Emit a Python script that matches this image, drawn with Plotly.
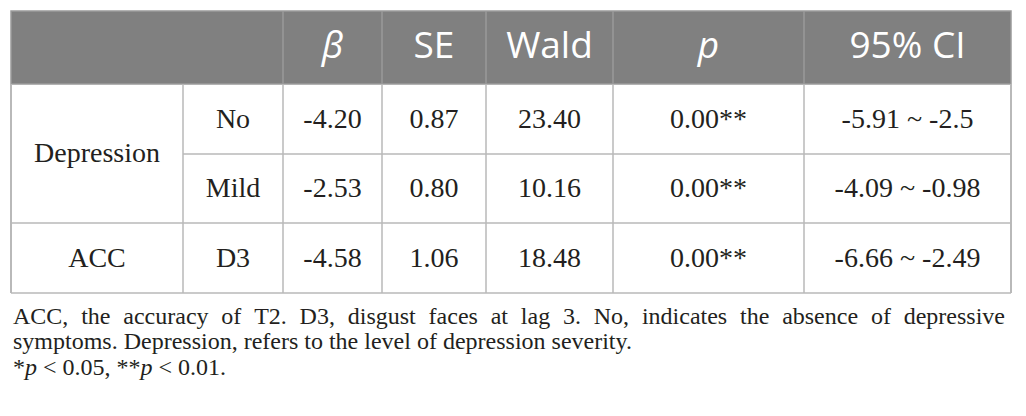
import plotly.graph_objects as go

# table content
header = ["", "<i>β</i>", "SE", "Wald", "<i>p</i>", "95% CI"]
groups = ["Depression", "ACC"]
group_rows = [[0, 1], [2]]
levels = ["No", "Mild", "D3"]
beta = ["-4.20", "-2.53", "-4.58"]
se = ["0.87", "0.80", "1.06"]
wald = ["23.40", "10.16", "18.48"]
p_val = ["0.00**", "0.00**", "0.00**"]
ci = ["-5.91 ~ -2.5", "-4.09 ~ -0.98", "-6.66 ~ -2.49"]
footnote = [
    "ACC, the accuracy of T2. D3, disgust faces at lag 3. No, indicates the absence of depressive",
    "symptoms. Depression, refers to the level of depression severity.",
    "*<i>p</i> < 0.05, **<i>p</i> < 0.01.",
]

# geometry (pixels, page coords)
W, H = 1026, 416
col_edges = [11, 183, 283, 382, 486, 613, 804, 1011]
row_edges = [11, 84, 154, 223, 293]
foot_y = [316, 341, 367]

HEAD_BG = "#808080"
HEAD_LINE = "#9a9a9a"
GRID = "#b9b9b9"
INK = "#231f20"
SERIF = "Liberation Serif"
SANS = "Open Sans"


def mid(a, b):
    return (a + b) / 2


fig = go.Figure()

shapes = []
# header band
shapes.append(dict(type="rect", x0=col_edges[0], x1=col_edges[-1], y0=row_edges[0], y1=row_edges[1],
                   fillcolor=HEAD_BG, line=dict(color=HEAD_LINE, width=1.5), layer="below"))
for x in col_edges[2:-1]:
    shapes.append(dict(type="line", x0=x, x1=x, y0=row_edges[0], y1=row_edges[1],
                       line=dict(color=HEAD_LINE, width=1.5)))

# body grid
for x in col_edges:
    w = 2 if x in (col_edges[0], col_edges[-1]) else 1.5
    shapes.append(dict(type="line", x0=x, x1=x, y0=row_edges[1], y1=row_edges[-1],
                       line=dict(color=GRID, width=w)))
for i, y in enumerate(row_edges[2:], start=2):
    # inner line of a merged group starts after the first column
    x0 = col_edges[1] if i == 2 else col_edges[0]
    shapes.append(dict(type="line", x0=x0, x1=col_edges[-1], y0=y, y1=y,
                       line=dict(color=GRID, width=1.5)))

# header text
hx, ht = [mid(col_edges[0], col_edges[2])], [header[0]]
for j, h in enumerate(header[1:], start=2):
    hx.append(mid(col_edges[j], col_edges[j + 1]))
    ht.append(h)
fig.add_trace(go.Scatter(
    x=hx, y=[mid(row_edges[0], row_edges[1]) + 1] * len(hx), text=ht, mode="text",
    textfont=dict(family=SANS, size=37, color="white"), hoverinfo="skip", showlegend=False))

# body text
row_y = [mid(row_edges[k], row_edges[k + 1]) + 1.5 for k in range(1, 4)]
gx, gy = [], []
for g, rows in zip(groups, group_rows):
    gx.append(mid(col_edges[0], col_edges[1]))
    gy.append(mid(row_edges[rows[0] + 1], row_edges[rows[-1] + 2]) + 1.5)
fig.add_trace(go.Scatter(
    x=gx, y=gy, text=groups, mode="text",
    textfont=dict(family=SERIF, size=28, color=INK), hoverinfo="skip", showlegend=False))

for j, col in enumerate([levels, beta, se, wald, p_val, ci], start=1):
    fig.add_trace(go.Scatter(
        x=[mid(col_edges[j], col_edges[j + 1])] * len(col), y=row_y, text=col, mode="text",
        textfont=dict(family=SERIF, size=28, color=INK), hoverinfo="skip", showlegend=False))

# footnote; first line is justified in the source, widen its spaces a little
for k, (line, y) in enumerate(zip(footnote, foot_y)):
    if k == 0:
        line = line.replace(" ", " \u2009\u200a")
    fig.add_annotation(x=col_edges[0], y=y, xref="x", yref="y", text=line, showarrow=False,
                       xanchor="left", yanchor="middle",
                       font=dict(family=SERIF, size=24, color=INK))

fig.update_layout(
    width=W, height=H,
    margin=dict(l=0, r=0, t=0, b=0),
    paper_bgcolor="white", plot_bgcolor="white",
    shapes=shapes,
    xaxis=dict(range=[0, W], visible=False, fixedrange=True),
    yaxis=dict(range=[H, 0], visible=False, fixedrange=True),
)

fig.write_html("out.html", config={"displayModeBar": False},
               post_script="document.body.style.margin='0';")
